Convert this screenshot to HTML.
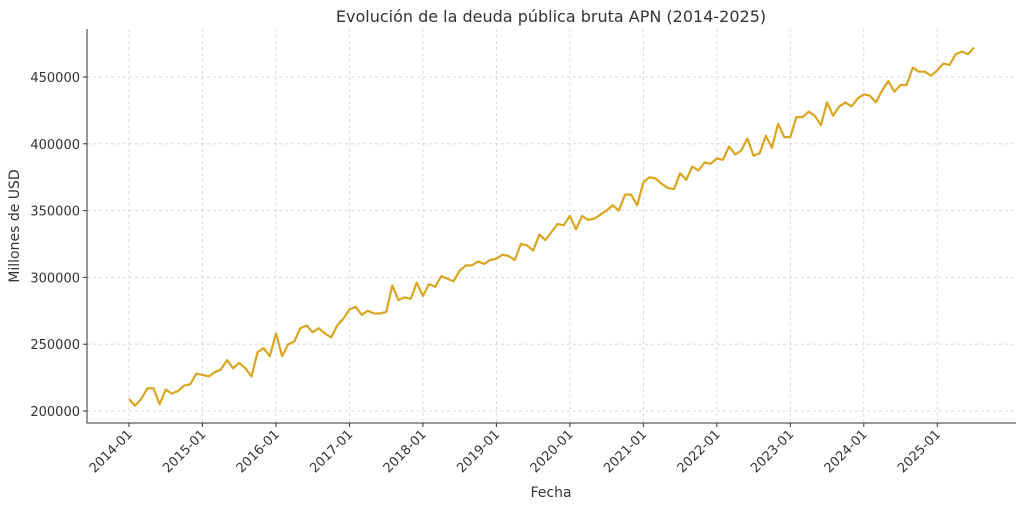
<!DOCTYPE html>
<html><head><meta charset="utf-8"><style>
body{margin:0;background:#fff;font-family:"Liberation Sans","DejaVu Sans",sans-serif}
svg text{font-family:"DejaVu Sans","Liberation Sans",sans-serif;fill:#333}
</style></head><body>
<svg id="chart" width="1024" height="508" xmlns="http://www.w3.org/2000/svg">
<text x="551" y="22" text-anchor="middle" font-size="16">Evolución de la deuda pública bruta APN (2014-2025)</text>
<text x="551" y="497" text-anchor="middle" font-size="14">Fecha</text>
<text transform="translate(19,226) rotate(-90)" text-anchor="middle" font-size="14">Millones de USD</text>
<g id="grid"></g><g id="axes"></g><g id="series"></g>
</svg>
<script>
const startYear = 2014;
const values2014 = [209,204,209,217,217,205,216,213,215,219,220,228];
const values2015 = [227,226,229,231,238,232,236,232,226,244,247,241];
const values2016 = [258,241,250,252,262,264,259,262,258,255,264,269];
const values2017 = [276,278,272,275,273,273,274,294,283,285,284,296];
const values2018 = [286,295,293,301,299,297,305,309,309,312,310,313];
const values2019 = [314,317,316,313,325,324,320,332,328,334,340,339];
const values2020 = [346,336,346,343,344,347,350,354,350,362,362,354];
const values2021 = [371,375,374,370,367,366,378,373,383,380,386,385];
const values2022 = [389,388,398,392,395,404,391,393,406,397,415,405];
const values2023 = [405,420,420,424,421,414,431,421,428,431,428,434];
const values2024 = [437,436,431,440,447,439,444,444,457,454,454,451];
const values2025 = [455,460,459,467,469,467,472];
const xTickLabels = ["2014-01","2015-01","2016-01","2017-01","2018-01","2019-01","2020-01","2021-01","2022-01","2023-01","2024-01","2025-01"];
const yTicks = [200000,250000,300000,350000,400000,450000];

const series = [].concat(values2014,values2015,values2016,values2017,values2018,values2019,values2020,values2021,values2022,values2023,values2024,values2025).map(v=>v*1000);
const L=87,R=1016,T=29,B=423;
const n=series.length;
const x0=129,x1=974;
const xScale=i=>x0+(x1-x0)*i/(n-1);
const yScale=v=>411-(v-200000)*(411-77)/250000;
const NS="http://www.w3.org/2000/svg";
function mk(tag,parent,attrs){const e=document.createElementNS(NS,tag);for(const k in attrs)e.setAttribute(k,attrs[k]);parent.appendChild(e);return e;}
const grid=document.getElementById('grid'),axes=document.getElementById('axes'),ser=document.getElementById('series');
yTicks.forEach(v=>{
  const y=yScale(v);
  const g=mk('line',grid,{x1:L,x2:R,y1:y,y2:y,stroke:'#d0d0d0','stroke-dasharray':'3,3','stroke-width':0.8});
  
  
  mk('line',axes,{x1:L-4,x2:L,y1:y,y2:y,stroke:'#333'});
  const t=mk('text',axes,{x:L-7,y:y+5,'text-anchor':'end','font-size':13});
  t.textContent=v;
  
  
});
xTickLabels.forEach((lab,i)=>{
  const x=xScale(i*12);
  const g=mk('line',grid,{x1:x,x2:x,y1:T,y2:B,stroke:'#d0d0d0','stroke-dasharray':'3,3','stroke-width':0.8});
  
  
  mk('line',axes,{x1:x,x2:x,y1:B,y2:B+4,stroke:'#333'});
  const t=mk('text',axes,{transform:`translate(${x+4},${B+12}) rotate(-45)`,'text-anchor':'end','font-size':13});
  t.textContent=lab;
  
  
});
const ax=mk('path',axes,{d:`M${L},${T} V${B} H${R}`,fill:'none',stroke:'#333','stroke-width':1});


const line=mk('polyline',ser,{points:series.map((v,i)=>xScale(i).toFixed(1)+','+yScale(v).toFixed(1)).join(' '),fill:'none',stroke:'#DAA520','stroke-width':2.2,'stroke-linejoin':'round'});


</script>
</body></html>
